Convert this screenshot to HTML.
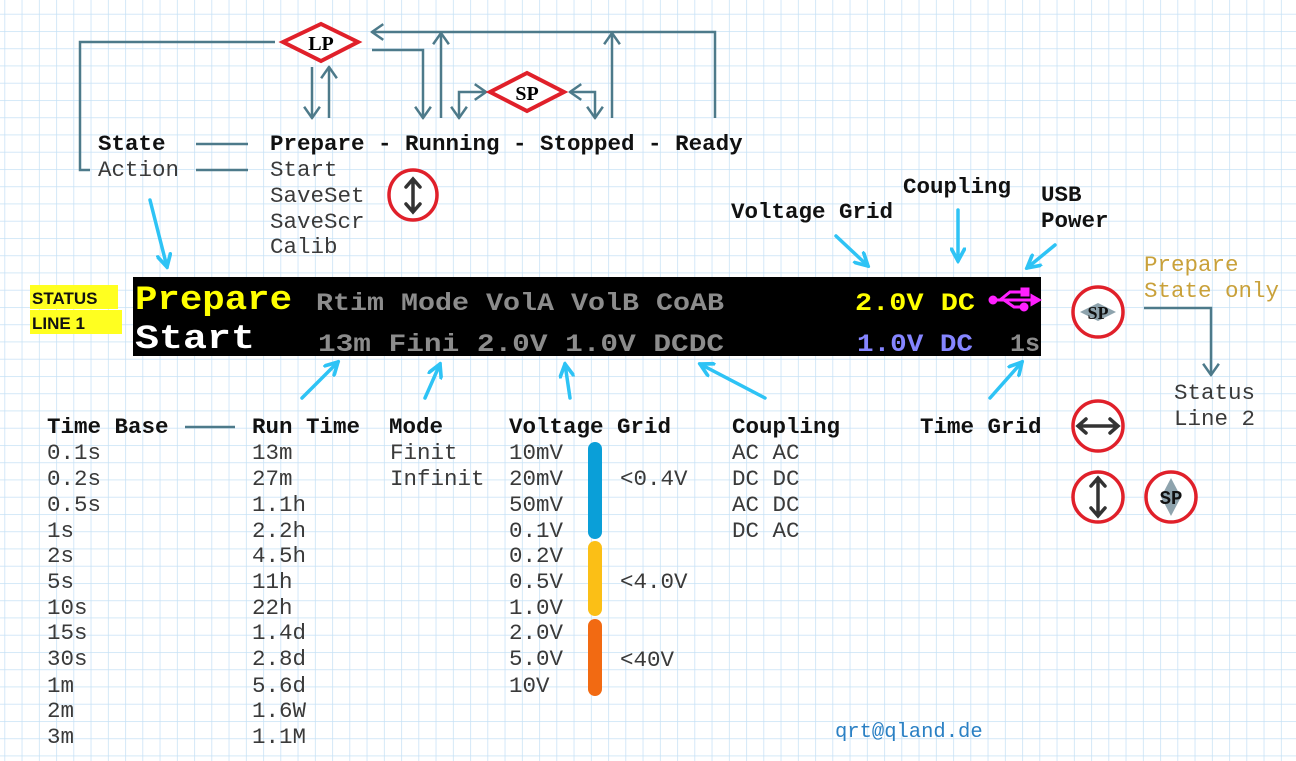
<!DOCTYPE html>
<html><head><meta charset="utf-8"><style>
html,body{margin:0;padding:0;background:#fff}
svg{display:block}
.m{font-family:"Liberation Mono",monospace;font-size:22.5px;fill:#3a3a3a}
.b{font-weight:bold;fill:#111}
.px{font-family:"Liberation Mono",monospace;font-weight:bold}
</style></head><body>
<svg width="1296" height="761" xmlns="http://www.w3.org/2000/svg">
<defs>
<pattern id="g" x="4.4" y="13.8" width="17.25" height="17.25" patternUnits="userSpaceOnUse">
<path d="M0 0H17.25M0 0V17.25" stroke="#c6e1f5" stroke-width="1.5" fill="none"/>
</pattern>
<marker id="ah" viewBox="0 0 12 16" refX="11" refY="8" markerWidth="14" markerHeight="18" markerUnits="userSpaceOnUse" orient="auto-start-reverse">
<path d="M1 1L11 8L1 15" fill="none" stroke="#4d7a8a" stroke-width="2.2"/>
</marker>
<marker id="ca" viewBox="0 0 14 14" refX="12" refY="7" markerWidth="16" markerHeight="16" markerUnits="userSpaceOnUse" orient="auto">
<path d="M1 1L12 7L1 13" fill="none" stroke="#2ec3f5" stroke-width="3.2" stroke-linecap="round"/>
</marker>
</defs>
<rect width="1296" height="761" fill="url(#g)"/>

<g stroke="#4d7a8a" stroke-width="2.5" fill="none">
<path d="M275 42H80V170H90"/>
<path d="M312 67V118" marker-end="url(#ah)"/>
<path d="M329 118V67" marker-end="url(#ah)"/>
<path d="M372 50H423V118" marker-end="url(#ah)"/>
<path d="M715 118V32H372" marker-end="url(#ah)"/>
<path d="M441 118V33" marker-end="url(#ah)"/>
<path d="M612 118V33" marker-end="url(#ah)"/>
<path d="M459 118V92H486" marker-start="url(#ah)" marker-end="url(#ah)"/>
<path d="M595 118V92H570" marker-start="url(#ah)" marker-end="url(#ah)"/>
<path d="M196 144H248M196 170H248M185 427H235"/>
<path d="M1144 308H1211V375" marker-end="url(#ah)"/>
</g>
<polygon points="283,42 321,24 358,42 321,61" fill="#fff" stroke="#e0202a" stroke-width="4"/>
<text x="321" y="50" text-anchor="middle" font-family="Liberation Serif,serif" font-weight="bold" font-size="20">LP</text>
<polygon points="490,92 527,73 564,92 527,111" fill="#fff" stroke="#e0202a" stroke-width="4"/>
<text x="527" y="100" text-anchor="middle" font-family="Liberation Serif,serif" font-weight="bold" font-size="20">SP</text>

<text class="m b" x="98" y="150">State</text>
<text class="m" x="98" y="176">Action</text>
<text class="m b" x="270" y="150">Prepare - Running - Stopped - Ready</text>
<text class="m" x="270" y="176">Start</text>
<text class="m" x="270" y="202">SaveSet</text>
<text class="m" x="270" y="228">SaveScr</text>
<text class="m" x="270" y="253">Calib</text>
<ellipse cx="413" cy="195" rx="24" ry="25" fill="#fff" stroke="#e0202a" stroke-width="3.5"/>
<g stroke="#333" stroke-width="3.5" fill="none" stroke-linecap="round"><path d="M413 180V211M406 187L413 179L420 187M406 204L413 212L420 204"/></g>

<text class="m b" x="731" y="218">Voltage Grid</text>
<text class="m b" x="903" y="193">Coupling</text>
<text class="m b" x="1041" y="201">USB</text>
<text class="m b" x="1041" y="227">Power</text>

<g stroke="#2ec3f5" stroke-width="3.5" stroke-linecap="round" fill="none">
<path d="M150 200L167 267" marker-end="url(#ca)"/>
<path d="M836 236L868 266" marker-end="url(#ca)"/>
<path d="M958 210V261" marker-end="url(#ca)"/>
<path d="M1055 245L1027 268" marker-end="url(#ca)"/>
<path d="M302 398L338 362" marker-end="url(#ca)"/>
<path d="M425 398L440 364" marker-end="url(#ca)"/>
<path d="M570 398L565 364" marker-end="url(#ca)"/>
<path d="M765 398L700 364" marker-end="url(#ca)"/>
<path d="M990 398L1022 362" marker-end="url(#ca)"/>
</g>

<rect x="30" y="285" width="88" height="24" fill="#ffff20"/>
<rect x="30" y="310" width="92" height="24" fill="#ffff20"/>
<text x="32" y="304" font-family="Liberation Sans Narrow,Liberation Sans,sans-serif" font-weight="bold" font-size="17" fill="#111">STATUS</text>
<text x="32" y="329" font-family="Liberation Sans Narrow,Liberation Sans,sans-serif" font-weight="bold" font-size="17" fill="#111">LINE 1</text>

<rect x="133" y="277" width="908" height="79" fill="#000"/>
<text class="px" x="135" y="309" font-size="34" fill="#ffff00" textLength="157" lengthAdjust="spacingAndGlyphs">Prepare</text>
<text class="px" x="135" y="348" font-size="34" fill="#fff" textLength="120" lengthAdjust="spacingAndGlyphs">Start</text>
<text class="px" x="316" y="310" font-size="25" fill="#8c8c8c" textLength="408" lengthAdjust="spacingAndGlyphs">Rtim Mode VolA VolB CoAB</text>
<text class="px" x="318" y="351" font-size="25" fill="#8c8c8c" textLength="406" lengthAdjust="spacingAndGlyphs">13m Fini 2.0V 1.0V DCDC</text>
<text class="px" x="855" y="310" font-size="25" fill="#ffff00" textLength="120" lengthAdjust="spacingAndGlyphs">2.0V DC</text>
<text class="px" x="857" y="351" font-size="25" fill="#8585ff" textLength="116" lengthAdjust="spacingAndGlyphs">1.0V DC</text>
<text class="px" x="1010" y="351" font-size="25" fill="#8c8c8c" textLength="30" lengthAdjust="spacingAndGlyphs">1s</text>
<g stroke="#ff20ff" stroke-width="3" fill="#ff20ff">
<path d="M992 300H1032M1000 300L1010 292H1022M1004 300L1014 307H1022" fill="none"/>
<circle cx="993" cy="300" r="3"/><rect x="1022" y="289" width="6" height="6"/><circle cx="1024" cy="307" r="3"/>
<path d="M1032 296L1039 300L1032 304Z"/>
</g>

<circle cx="1098" cy="312" r="25" fill="#fff" stroke="#e0202a" stroke-width="3.5"/>
<polygon points="1080,312 1098,303 1116,312 1098,321" fill="#8ea3ad"/>
<text x="1098" y="319" text-anchor="middle" font-family="Liberation Serif,serif" font-weight="bold" font-size="18" fill="#111">SP</text>
<text class="m" x="1144" y="271" style="fill:#c9a13a">Prepare</text>
<text class="m" x="1144" y="297" style="fill:#c9a13a">State only</text>
<text class="m" x="1174" y="399">Status</text>
<text class="m" x="1174" y="425">Line 2</text>
<circle cx="1098" cy="426" r="25" fill="#fff" stroke="#e0202a" stroke-width="3.5"/>
<g stroke="#333" stroke-width="3.5" fill="none" stroke-linecap="round"><path d="M1079 426H1117M1086 419L1078 426L1086 433M1110 419L1118 426L1110 433"/></g>
<circle cx="1098" cy="497" r="25" fill="#fff" stroke="#e0202a" stroke-width="3.5"/>
<g stroke="#333" stroke-width="3.5" fill="none" stroke-linecap="round"><path d="M1098 479V515M1091 486L1098 478L1105 486M1091 508L1098 516L1105 508"/></g>
<circle cx="1171" cy="497" r="25" fill="#fff" stroke="#e0202a" stroke-width="3.5"/>
<polygon points="1171,478 1181,497 1171,516 1161,497" fill="#8ea3ad"/>
<text x="1171" y="504" text-anchor="middle" font-family="Liberation Mono,monospace" font-weight="bold" font-size="19" fill="#111">SP</text>

<text class="m b" x="47" y="433">Time Base</text>
<text class="m b" x="252" y="433">Run Time</text>
<text class="m b" x="389" y="433">Mode</text>
<text class="m b" x="509" y="433">Voltage Grid</text>
<text class="m b" x="732" y="433">Coupling</text>
<text class="m b" x="920" y="433">Time Grid</text>
<g>
<text class="m" x="47" y="459">0.1s</text><text class="m" x="47" y="485">0.2s</text><text class="m" x="47" y="511">0.5s</text><text class="m" x="47" y="537">1s</text><text class="m" x="47" y="562">2s</text><text class="m" x="47" y="588">5s</text><text class="m" x="47" y="614">10s</text><text class="m" x="47" y="639">15s</text><text class="m" x="47" y="665">30s</text><text class="m" x="47" y="692">1m</text><text class="m" x="47" y="717">2m</text><text class="m" x="47" y="743">3m</text>
<text class="m" x="252" y="459">13m</text><text class="m" x="252" y="485">27m</text><text class="m" x="252" y="511">1.1h</text><text class="m" x="252" y="537">2.2h</text><text class="m" x="252" y="562">4.5h</text><text class="m" x="252" y="588">11h</text><text class="m" x="252" y="614">22h</text><text class="m" x="252" y="639">1.4d</text><text class="m" x="252" y="665">2.8d</text><text class="m" x="252" y="692">5.6d</text><text class="m" x="252" y="717">1.6W</text><text class="m" x="252" y="743">1.1M</text>
<text class="m" x="390" y="459">Finit</text><text class="m" x="390" y="485">Infinit</text>
<text class="m" x="509" y="459">10mV</text><text class="m" x="509" y="485">20mV</text><text class="m" x="509" y="511">50mV</text><text class="m" x="509" y="537">0.1V</text><text class="m" x="509" y="562">0.2V</text><text class="m" x="509" y="588">0.5V</text><text class="m" x="509" y="614">1.0V</text><text class="m" x="509" y="639">2.0V</text><text class="m" x="509" y="665">5.0V</text><text class="m" x="509" y="692">10V</text>
<text class="m" x="620" y="485">&lt;0.4V</text><text class="m" x="620" y="588">&lt;4.0V</text><text class="m" x="620" y="666">&lt;40V</text>
<text class="m" x="732" y="459">AC AC</text><text class="m" x="732" y="485">DC DC</text><text class="m" x="732" y="511">AC DC</text><text class="m" x="732" y="537">DC AC</text>
</g>
<rect x="588" y="442" width="14" height="97" rx="7" fill="#0a9fd8"/>
<rect x="588" y="541" width="14" height="75" rx="7" fill="#fbbf16"/>
<rect x="588" y="619" width="14" height="77" rx="7" fill="#f26a12"/>
<text x="835" y="737" font-family="Liberation Mono,monospace" font-size="20.5" fill="#2a80c4">qrt@qland.de</text>
</svg>
</body></html>
